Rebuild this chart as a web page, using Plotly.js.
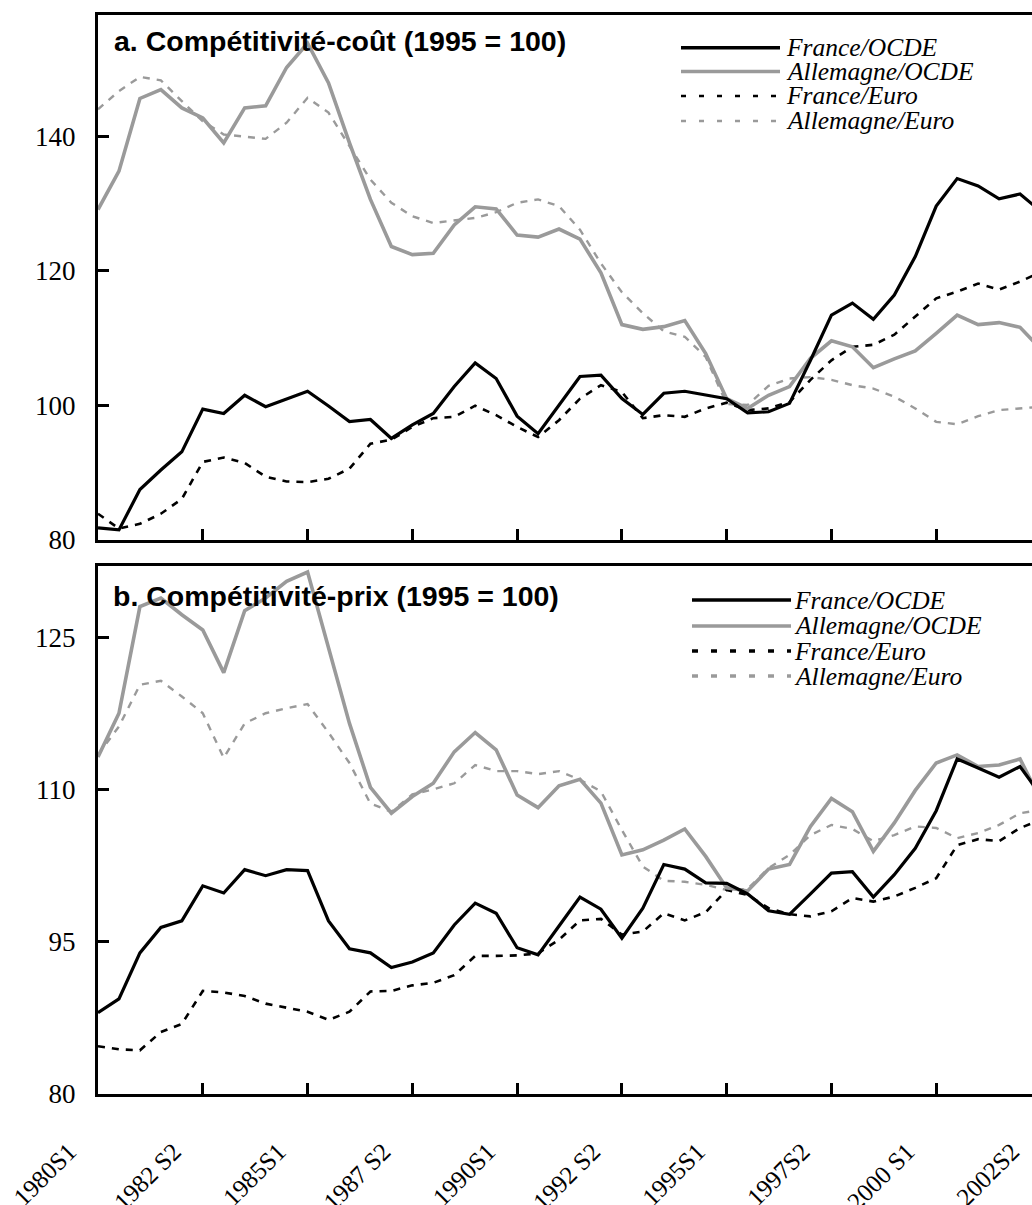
<!DOCTYPE html>
<html>
<head>
<meta charset="utf-8">
<script src="https://cdn.plot.ly/plotly-3.0.1.min.js"></script>
<style>
html, body { margin: 0; padding: 0; overflow: hidden; background: #fff; }
#chart { width: 1045px; height: 1205px; }
</style>
</head>
<body>
<div id="chart"></div>
<script>
// ---- Data (semesters 1980S1 .. 2002S2) ----
const tickIndex = [0, 5, 10, 15, 20, 25, 30, 35, 40, 45];
const tickLabels = ["1980S1", "1982 S2", "1985S1", "1987 S2", "1990S1", "1992 S2", "1995S1", "1997S2", "2000 S1", "2002S2"];
const seriesNames = ["France/OCDE", "Allemagne/OCDE", "France/Euro", "Allemagne/Euro"];

// a. Compétitivité-coût (1995 = 100)
const coutFranceOCDE = [81.8, 81.5, 87.5, 90.4, 93.1, 99.45, 98.8, 101.5, 99.8, 101.0, 102.1, 99.9, 97.6, 97.9, 95.1, 97.1, 98.8, 102.8, 106.3, 104.0, 98.4, 95.8, 100.0, 104.3, 104.5, 101.0, 98.65, 101.8, 102.1, 101.6, 101.0, 98.9, 99.05, 100.3, 106.7, 113.4, 115.2, 112.8, 116.4, 122.1, 129.6, 133.7, 132.6, 130.7, 131.4, 128.8];
const coutAllemagneOCDE = [129.1, 134.8, 145.6, 146.9, 144.2, 142.7, 139.0, 144.2, 144.5, 150.2, 153.8, 147.9, 139.0, 130.6, 123.6, 122.4, 122.6, 126.8, 129.5, 129.2, 125.3, 125.0, 126.2, 124.7, 119.7, 112.0, 111.3, 111.7, 112.6, 107.7, 101.0, 99.55, 101.5, 102.8, 107.0, 109.6, 108.7, 105.6, 106.9, 108.1, 110.7, 113.4, 112.0, 112.3, 111.6, 108.3];
const coutFranceEuro = [83.9, 81.7, 82.4, 83.9, 86.1, 91.6, 92.25, 91.45, 89.4, 88.7, 88.6, 89.1, 90.6, 94.3, 94.9, 96.8, 98.1, 98.3, 99.95, 98.55, 96.8, 95.3, 97.8, 101.0, 103.0, 102.0, 98.1, 98.55, 98.3, 99.55, 100.4, 99.3, 99.55, 100.5, 103.8, 106.7, 108.7, 109.0, 110.5, 113.2, 115.9, 116.9, 118.1, 117.2, 118.4, 119.8];
const coutAllemagneEuro = [144.0, 146.7, 148.8, 148.3, 145.2, 142.2, 140.25, 139.9, 139.6, 142.0, 145.7, 143.5, 138.5, 133.55, 130.1, 128.1, 127.1, 127.5, 127.85, 128.7, 130.1, 130.6, 129.6, 126.1, 121.1, 116.8, 113.7, 111.0, 110.2, 107.2, 100.2, 100.05, 102.9, 104.0, 104.2, 103.8, 103.0, 102.5, 101.3, 99.55, 97.55, 97.2, 98.4, 99.3, 99.6, 99.8];

// b. Compétitivité-prix (1995 = 100)
const prixFranceOCDE = [88.0, 89.36, 93.9, 96.4, 97.05, 100.5, 99.8, 102.1, 101.5, 102.1, 102.0, 97.05, 94.3, 93.9, 92.45, 93.0, 93.9, 96.65, 98.8, 97.8, 94.4, 93.7, 96.55, 99.4, 98.2, 95.35, 98.3, 102.6, 102.15, 100.8, 100.75, 99.7, 98.05, 97.7, 99.7, 101.75, 101.9, 99.4, 101.6, 104.2, 107.9, 113.0, 112.1, 111.2, 112.25, 109.4];
const prixAllemagneOCDE = [113.2, 117.5, 128.0, 128.85, 127.2, 125.7, 121.5, 127.6, 128.85, 130.5, 131.4, 124.1, 116.5, 110.2, 107.65, 109.3, 110.6, 113.7, 115.6, 113.9, 109.45, 108.2, 110.35, 111.0, 108.65, 103.55, 104.05, 105.0, 106.1, 103.4, 100.3, 100.0, 102.15, 102.6, 106.35, 109.1, 107.8, 103.9, 106.7, 109.9, 112.6, 113.4, 112.25, 112.4, 113.0, 108.9];
const prixFranceEuro = [84.7, 84.4, 84.3, 86.1, 86.9, 90.15, 90.0, 89.65, 88.9, 88.5, 88.1, 87.3, 88.1, 90.1, 90.15, 90.7, 90.95, 91.7, 93.6, 93.6, 93.65, 93.85, 95.2, 97.1, 97.25, 95.7, 96.0, 97.8, 97.1, 97.9, 100.1, 99.6, 98.3, 97.7, 97.5, 98.0, 99.3, 98.95, 99.45, 100.3, 101.25, 104.5, 105.1, 104.9, 106.2, 107.0];
const prixAllemagneEuro = [113.4, 116.2, 120.3, 120.7, 119.15, 117.5, 113.1, 116.5, 117.5, 118.0, 118.4, 115.6, 112.6, 108.6, 107.8, 109.5, 110.0, 110.6, 112.4, 111.8, 111.8, 111.5, 111.8, 110.95, 109.8, 106.0, 102.4, 101.0, 100.9, 100.6, 100.1, 100.2, 102.25, 103.55, 105.5, 106.5, 106.1, 104.9, 105.5, 106.35, 106.2, 105.2, 105.7, 106.5, 107.65, 108.0];

const titleA = "a. Compétitivité-coût (1995 = 100)";
const titleB = "b. Compétitivité-prix (1995 = 100)";

// ---- Styles ----
const GRAY = "#9a9a9a";
const styles = [
  {color: "#000000", width: 3.2, dash: "solid"},
  {color: GRAY, width: 3.6, dash: "solid"},
  {color: "#000000", width: 2.6, dash: "7px,7px"},
  {color: GRAY, width: 2.4, dash: "7px,7px"}
];

const xs = coutFranceOCDE.map((_, i) => i);

function mk(y, k, xa, ya) {
  return {x: xs, y: y, xaxis: xa, yaxis: ya, type: "scatter", mode: "lines",
          name: seriesNames[k], showlegend: false, hoverinfo: "skip",
          line: {color: styles[k].color, width: styles[k].width, dash: styles[k].dash}};
}

const traces = [
  mk(coutAllemagneEuro, 3, "x", "y"),
  mk(coutFranceEuro, 2, "x", "y"),
  mk(coutAllemagneOCDE, 1, "x", "y"),
  mk(coutFranceOCDE, 0, "x", "y"),
  mk(prixAllemagneEuro, 3, "x2", "y2"),
  mk(prixFranceEuro, 2, "x2", "y2"),
  mk(prixAllemagneOCDE, 1, "x2", "y2"),
  mk(prixFranceOCDE, 0, "x2", "y2")
];

// ---- Layout geometry (pixels) ----
const W = 1045, H = 1205, ML = 98, MR = 4, MT = 15, MB = 111;
const PW = W - ML - MR, PH = H - MT - MB;
const px2x = p => (p - ML) / PW;
const px2y = p => (H - MB - p) / PH;

const serif = "'Liberation Serif', 'Times New Roman', serif";
const sans = "'Liberation Sans', Arial, sans-serif";

const axisCommon = {
  showline: true, linecolor: "#000", linewidth: 3, mirror: true,
  ticks: "inside", ticklen: 11, tickwidth: 3, tickcolor: "#000",
  showgrid: false, zeroline: false, fixedrange: true
};

const shapes = [], annotations = [];
function legend(x0, x1, xt, rows, dashes) {
  rows.forEach((py, k) => {
    shapes.push({type: "line", xref: "paper", yref: "paper",
      x0: px2x(x0), x1: px2x(x1), y0: px2y(py), y1: px2y(py),
      line: {color: styles[k].color, width: k < 2 ? 3.4 : dashes.w, dash: k < 2 ? "solid" : dashes.d}});
    annotations.push({xref: "paper", yref: "paper", x: px2x(xt), y: px2y(py),
      xanchor: "left", yanchor: "middle", showarrow: false, text: "<i>" + seriesNames[k] + "</i>",
      font: {family: serif, size: 25.5, color: "#000"}});
  });
}
legend(681, 780, 784, [47.7, 71.5, 96, 121], {w: 2.6, d: "5px,13px"});
legend(692, 791, 792, [600, 626, 651, 676], {w: 3.4, d: "6px,13px"});

annotations.push({xref: "paper", yref: "paper", x: px2x(112), y: px2y(41), xanchor: "left", yanchor: "middle",
  showarrow: false, text: "<b>" + titleA + "</b>", font: {family: sans, size: 28.5, color: "#000"}});
annotations.push({xref: "paper", yref: "paper", x: px2x(111), y: px2y(596), xanchor: "left", yanchor: "middle",
  showarrow: false, text: "<b>" + titleB + "</b>", font: {family: sans, size: 28.5, color: "#000"}});

const layout = {
  width: W, height: H,
  margin: {l: ML, r: MR, t: MT, b: MB, pad: 0},
  paper_bgcolor: "#fff", plot_bgcolor: "#fff",
  showlegend: false,
  xaxis: Object.assign({}, axisCommon, {anchor: "y", range: [0, 45], tickmode: "array", tickvals: tickIndex, showticklabels: false}),
  xaxis2: Object.assign({}, axisCommon, {anchor: "y2", matches: "x", range: [0, 45], tickmode: "array", tickvals: tickIndex,
    ticktext: tickLabels, tickangle: -45, ticklabelstandoff: 30, ticklabelshift: -29,
    tickfont: {family: serif, size: 25, color: "#000"}}),
  yaxis: Object.assign({}, axisCommon, {anchor: "x", domain: [px2y(540), 1], range: [80, 158], tickmode: "array",
    tickvals: [80, 100, 120, 140], ticklabelstandoff: 14, tickfont: {family: serif, size: 27, color: "#000"}}),
  yaxis2: Object.assign({}, axisCommon, {anchor: "x2", domain: [0, px2y(566)], range: [80, 132], tickmode: "array",
    tickvals: [80, 95, 110, 125], ticklabelstandoff: 14, tickfont: {family: serif, size: 27, color: "#000"}}),
  shapes: shapes,
  annotations: annotations
};

Plotly.newPlot("chart", traces, layout, {displayModeBar: false, staticPlot: true});
</script>
</body>
</html>
